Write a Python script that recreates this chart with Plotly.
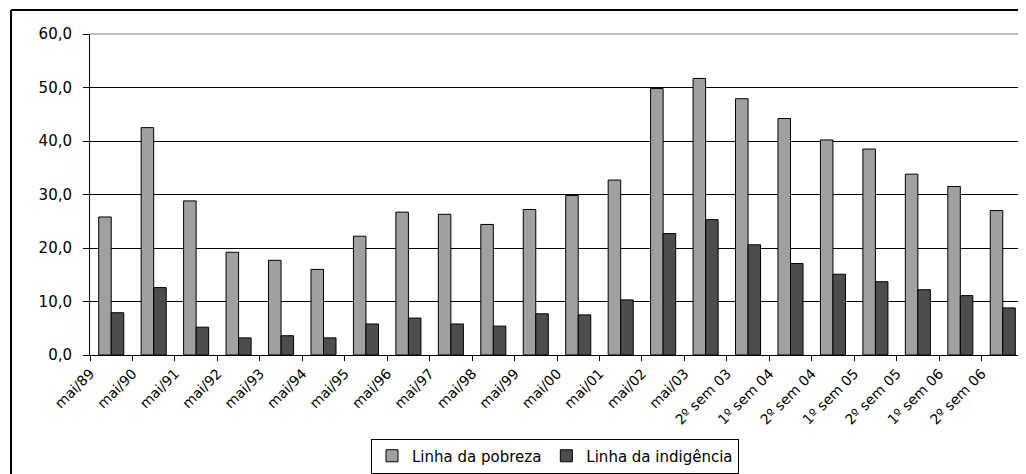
import plotly.graph_objects as go

categorias = ["mai/89", "mai/90", "mai/91", "mai/92", "mai/93", "mai/94", "mai/95",
              "mai/96", "mai/97", "mai/98", "mai/99", "mai/00", "mai/01", "mai/02",
              "mai/03", "2º sem 03", "1º sem 04", "2º sem 04", "1º sem 05",
              "2º sem 05", "1º sem 06", "2º sem 06"]
linha_pobreza = [25.8, 42.5, 28.8, 19.2, 17.7, 16.0, 22.2, 26.7, 26.3, 24.4, 27.2,
                 29.8, 32.7, 49.8, 51.7, 47.9, 44.2, 40.2, 38.5, 33.8, 31.5, 27.0]
linha_indigencia = [7.9, 12.6, 5.2, 3.2, 3.6, 3.2, 5.8, 6.9, 5.8, 5.4, 7.7,
                    7.5, 10.3, 22.7, 25.3, 20.6, 17.1, 15.1, 13.7, 12.2, 11.1, 8.8]
y_ticks = [0, 10, 20, 30, 40, 50, 60]

# the page body has an 8px default margin; work in page pixels and subtract it
OFF = 8
PAGE_W, PAGE_H = 1026, 474
W, H = PAGE_W - OFF, PAGE_H - OFF
plot_left, plot_right, plot_top, plot_bottom = 90, 1024, 34, 355
L = plot_left - OFF
R = PAGE_W - plot_right
T = plot_top - OFF
B = PAGE_H - plot_bottom
pw, ph = W - L - R, H - T - B

def px_x(p):
    return (p - plot_left) / pw

def px_y(p):
    return (plot_bottom - p) / ph

fig = go.Figure()
fig.add_trace(go.Bar(x=categorias, y=linha_pobreza, name="Linha da pobreza",
                     marker=dict(color="#A0A0A0", line=dict(color="#000000", width=1))))
fig.add_trace(go.Bar(x=categorias, y=linha_indigencia, name="Linha da indigência",
                     marker=dict(color="#4D4D4D", line=dict(color="#000000", width=1))))

font = "DejaVu Sans, Arial, sans-serif"
fig.update_layout(
    width=W, height=H,
    margin=dict(l=L, r=R, t=T, b=B, autoexpand=False),
    paper_bgcolor="white", plot_bgcolor="white",
    barmode="group", bargap=0.41, bargroupgap=0,
    separators=",.",
    font=dict(family=font, size=14, color="#000000"),
    showlegend=True,
    legend=dict(orientation="h", xref="container", yref="container",
                x=(555 - OFF) / W, xanchor="center", y=(PAGE_H - 456) / H, yanchor="middle",
                bordercolor="#000000", borderwidth=1, font=dict(size=15, family=font),
                itemwidth=30, tracegroupgap=0),
    shapes=[
        dict(type="line", xref="paper", yref="paper", x0=px_x(11), x1=px_x(1040),
             y0=px_y(10), y1=px_y(10), line=dict(color="#000000", width=2)),
        dict(type="line", xref="paper", yref="paper", x0=px_x(11), x1=px_x(11),
             y0=px_y(10), y1=px_y(490), line=dict(color="#000000", width=2)),
        dict(type="line", xref="paper", yref="paper", x0=0, x1=1, y0=1, y1=1,
             line=dict(color="#808080", width=1)),
        dict(type="line", xref="paper", yref="paper", x0=1, x1=1, y0=0, y1=1,
             line=dict(color="#808080", width=1)),
    ],
)
fig.update_xaxes(type="category", tickson="boundaries", ticks="outside", ticklen=5,
                 tickcolor="#000000", showline=True, linecolor="#000000", linewidth=1,
                 tickangle=-45, ticklabelshift=-21, ticklabelstandoff=4, showgrid=False,
                 automargin=False, tickfont=dict(family=font, size=14, color="#000000"))
fig.update_yaxes(range=[0, 60], tickvals=y_ticks, tickformat=".1f", ticks="outside",
                 ticklen=6, tickcolor="#000000", showline=True, linecolor="#000000",
                 linewidth=1, showgrid=True, gridcolor="#000000", gridwidth=1,
                 zeroline=False, automargin=False, ticklabelstandoff=8,
                 tickfont=dict(family=font, size=15, color="#000000"))

fig.write_html("out.html")
